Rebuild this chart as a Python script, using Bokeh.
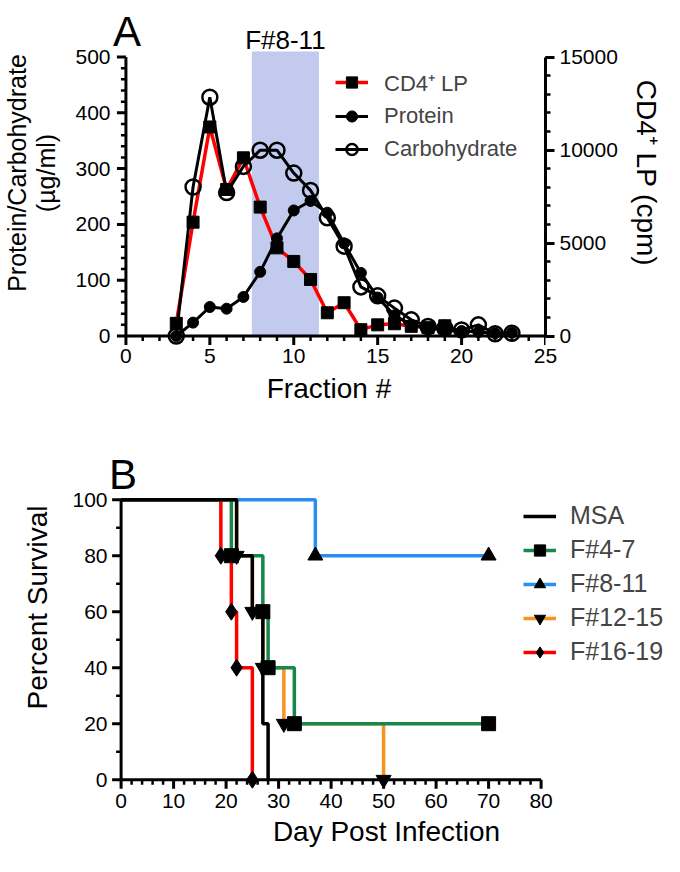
from bokeh.plotting import figure
from bokeh.models import Range1d, LinearAxis, Legend, LegendItem, FixedTicker
from bokeh.embed import file_html
from bokeh.resources import INLINE
from bokeh.core.properties import value

FONT = "Liberation Sans"

# ---------------- Panel A data ----------------
cd4_fraction = [3, 4, 5, 6, 7, 8, 9, 10, 11, 12, 13, 14, 15, 16, 17, 18, 19]
cd4_cpm = [680, 6120, 11240, 7880, 9580, 6930, 4740, 4010, 3040, 1250, 1790,
           340, 600, 660, 520, 450, 550]
protein_fraction = list(range(3, 24))
protein = [0, 24, 52, 49, 70, 115, 175, 225, 242, 221, 166, 113, 69, 37, 20,
           14, 12, 9, 7, 5, 6]
carb_fraction = list(range(3, 24))
carbohydrate = [0, 267, 428, 257, 304, 333, 333, 292, 261, 212, 161, 88, 72,
                50, 29, 17, 14, 11, 20, 4, 5]
band_fractions = [7.5, 11.5]
band_label = "F#8-11"
a_xticks = [0, 5, 10, 15, 20, 25]
a_yticks = [0, 100, 200, 300, 400, 500]
a_y2ticks = [0, 5000, 10000, 15000]

# ---------------- Panel B data ----------------
groups = ["MSA", "F#4-7", "F#8-11", "F#12-15", "F#16-19"]
days = {
    "MSA":     [0, 22, 25, 27, 28],
    "F#4-7":   [0, 21, 27, 28, 33, 70],
    "F#8-11":  [0, 37, 70],
    "F#12-15": [0, 22, 25, 27, 31, 50],
    "F#16-19": [0, 19, 21, 22, 25],
}
survival = {
    "MSA":     [100, 80, 60, 20, 0],
    "F#4-7":   [100, 80, 60, 40, 20, 20],
    "F#8-11":  [100, 80, 80],
    "F#12-15": [100, 80, 60, 40, 20, 0],
    "F#16-19": [100, 80, 60, 40, 0],
}
b_xticks = [0, 10, 20, 30, 40, 50, 60, 70, 80]
b_yticks = [0, 20, 40, 60, 80, 100]

colors = {"MSA": "#000000", "F#4-7": "#17884a", "F#8-11": "#2b8ef2",
          "F#12-15": "#f7931e", "F#16-19": "#ff0000"}
markers = {"MSA": None, "F#4-7": "square", "F#8-11": "triangle",
           "F#12-15": "inverted_triangle", "F#16-19": "diamond"}
msize = {"square": 14, "triangle": 15, "inverted_triangle": 15, "diamond": 17}

W = 664
TICK_FONT = "21px"
LABEL_FONT = "28px"


def style_axis(ax, ticks, minor, bounds):
    ax.ticker = FixedTicker(ticks=ticks, minor_ticks=minor)
    ax.bounds = bounds
    ax.axis_line_width = 3
    ax.major_tick_line_width = 3
    ax.minor_tick_line_width = 2.5
    ax.major_tick_out = 9
    ax.major_tick_in = 0
    ax.minor_tick_out = 5
    ax.minor_tick_in = 0
    ax.major_label_text_font = FONT
    ax.major_label_text_font_size = TICK_FONT
    ax.major_label_text_color = "black"
    ax.major_label_standoff = 5
    ax.axis_label_text_font = FONT
    ax.axis_label_text_font_size = LABEL_FONT
    ax.axis_label_text_font_style = "normal"
    ax.axis_label_text_color = "black"


def hide_rule(ax):
    ax.axis_line_color = None
    ax.major_tick_line_color = None
    ax.minor_tick_line_color = None
    ax.major_tick_out = 0
    ax.minor_tick_out = 0


def draw_x_rule(p, ticks, minor, bounds, ppu):
    """x axis line and ticks drawn at y = 0."""
    p.segment(x0=[bounds[0]], x1=[bounds[1]], y0=[0], y1=[0],
              line_color="black", line_width=3)
    p.segment(x0=ticks, x1=ticks, y0=[0] * len(ticks),
              y1=[-9 / ppu] * len(ticks), line_color="black", line_width=3)
    mn = [m for m in minor if m not in ticks]
    p.segment(x0=mn, x1=mn, y0=[0] * len(mn), y1=[-5 / ppu] * len(mn),
              line_color="black", line_width=2.5)


def draw_y_rule(p, ticks, minor, bounds, ppu):
    """y axis line and ticks drawn at x = 0."""
    p.segment(x0=[0], x1=[0], y0=[bounds[0]], y1=[bounds[1]],
              line_color="black", line_width=3)
    p.segment(x0=[0] * len(ticks), x1=[-9 / ppu] * len(ticks), y0=ticks,
              y1=ticks, line_color="black", line_width=3)
    mn = [m for m in minor if m not in ticks]
    p.segment(x0=[0] * len(mn), x1=[-5 / ppu] * len(mn), y0=mn, y1=mn,
              line_color="black", line_width=2.5)


# ================= Panel A =================
A_BL, A_FW, A_BR = 107, 433, 124
A_X0, A_X1 = -0.8, 25
A_BT, A_FH, A_BB = 0, 345, 80
A_Y0 = -17
a_xppu = A_FW / (A_X1 - A_X0)
a_ppu = 0.558
A_Y1 = A_Y0 + A_FH / a_ppu
CPM = 30  # right axis (cpm) per left-axis unit

pa = figure(frame_width=A_FW, frame_height=A_FH,
            x_range=Range1d(A_X0, A_X1), y_range=Range1d(A_Y0, A_Y1),
            output_backend="svg", toolbar_location=None, title=None,
            min_border_left=A_BL, min_border_right=A_BR,
            min_border_top=A_BT, min_border_bottom=A_BB,
            outline_line_color=None)
pa.grid.visible = False
pa.extra_y_ranges = {"cpm": Range1d(A_Y0 * CPM, A_Y1 * CPM)}

pa.quad(left=[band_fractions[0]], right=[band_fractions[1]], bottom=[0], top=[510],
        fill_color="#c2cbee", line_color=None)

l_cd4 = pa.line(cd4_fraction, cd4_cpm, y_range_name="cpm", line_color="#ff0000", line_width=3.5)
m_cd4 = pa.scatter(cd4_fraction, cd4_cpm, y_range_name="cpm", marker="square", size=12,
                   fill_color="black", line_color="black")
l_pro = pa.line(protein_fraction, protein, line_color="black", line_width=3)
m_pro = pa.scatter(protein_fraction, protein, marker="circle", size=11,
                   fill_color="black", line_color="black")
l_car = pa.line(carb_fraction, carbohydrate, line_color="black", line_width=3)
m_car = pa.scatter(carb_fraction, carbohydrate, marker="circle", size=15,
                   fill_color=None, line_color="black", line_width=2.5)

a_xminor = list(range(0, 26))
a_yminor = list(range(0, 501, 20))
draw_x_rule(pa, a_xticks, a_xminor, (0, 25), a_ppu)
draw_y_rule(pa, a_yticks, a_yminor, (0, 500), a_xppu)

xa = pa.xaxis[0]
style_axis(xa, a_xticks, a_xminor, (0, 25))
hide_rule(xa)
xa.major_label_standoff = 3
xa.axis_label = "Fraction #"
xa.axis_label_standoff = 7

ya = pa.yaxis[0]
style_axis(ya, a_yticks, a_yminor, (0, 500))
hide_rule(ya)
ya.major_label_standoff = 2
ya.axis_label = "Protein/Carbohydrate\n(\u00b5g/ml)"
ya.axis_label_text_font_size = "25px"
ya.axis_label_text_line_height = 1.05
ya.axis_label_standoff = 12

yr = LinearAxis(y_range_name="cpm")
style_axis(yr, a_y2ticks, list(range(0, 15001, 1000)), (0, 15000))
yr.axis_label = "CD4\u207a LP (cpm)"
yr.axis_label_standoff = 10
pa.add_layout(yr, "right")

# panel letter and band label (inside the extended frame)
pa.text(x=[A_X0 + 0.026], y=[A_Y1 - 31 / a_ppu], text=["A"], text_font=value(FONT),
        text_font_size=value("42px"), text_baseline="alphabetic", text_align="left",
        text_color="black")
pa.text(x=[sum(band_fractions) / 2], y=[530], text=[band_label], text_font=value(FONT),
        text_font_size=value("26px"), text_baseline="alphabetic", text_align="center",
        text_color="black")

leg_a = Legend(items=[
    LegendItem(label="CD4\u207a LP", renderers=[l_cd4, m_cd4]),
    LegendItem(label="Protein", renderers=[l_pro, m_pro]),
    LegendItem(label="Carbohydrate", renderers=[l_car, m_car]),
], location=(223, 182), padding=0, margin=0, spacing=5,
    glyph_width=33, glyph_height=28, label_height=28, label_standoff=16,
    label_text_font=FONT, label_text_font_size="22px",
    background_fill_alpha=0, border_line_color=None)
pa.add_layout(leg_a)

# ================= Panel B =================
B_BL = 108
B_X0 = -2.4
b_xppu = 5.25
B_FW = W - B_BL
B_X1 = B_X0 + B_FW / b_xppu
B_FH, B_BB = 364, 67
B_Y0 = -3.5
b_ppu = 2.8
B_Y1 = B_Y0 + B_FH / b_ppu

pb = figure(frame_width=B_FW, frame_height=B_FH,
            x_range=Range1d(B_X0, B_X1), y_range=Range1d(B_Y0, B_Y1),
            output_backend="svg", toolbar_location=None, title=None,
            min_border_left=B_BL, min_border_right=0,
            min_border_top=0, min_border_bottom=B_BB,
            outline_line_color=None)
pb.grid.visible = False

order = ["F#12-15", "F#8-11", "F#16-19", "F#4-7", "MSA"]
line_r = {}
for g in order:
    line_r[g] = pb.step(days[g], survival[g], mode="after",
                        line_color=colors[g], line_width=3.5)
mark_r = {}
for g in order:
    if markers[g]:
        mark_r[g] = pb.scatter(days[g][1:], survival[g][1:], marker=markers[g],
                               size=msize[markers[g]], fill_color="black",
                               line_color="black")

b_xminor = list(range(0, 81, 2))
b_yminor = list(range(0, 101, 10))
draw_x_rule(pb, b_xticks, b_xminor, (0, 80), b_ppu)
draw_y_rule(pb, b_yticks, b_yminor, (0, 100), b_xppu)

xb = pb.xaxis[0]
style_axis(xb, b_xticks, b_xminor, (0, 80))
hide_rule(xb)
xb.major_label_standoff = 4
xb.axis_label = "Day Post Infection"
xb.axis_label_standoff = 5

yb = pb.yaxis[0]
style_axis(yb, b_yticks, b_yminor, (0, 100))
hide_rule(yb)
yb.major_label_standoff = 1
yb.axis_label = "Percent Survival"
yb.axis_label_standoff = 16

pb.text(x=[-12 / b_xppu], y=[(787 - 482) / b_ppu], text=["B"], text_font=value(FONT),
        text_font_size=value("42px"), text_baseline="alphabetic", text_align="left",
        text_color="black")

items_b = []
for g in groups:
    rs = [line_r[g]] + ([mark_r[g]] if g in mark_r else [])
    items_b.append(LegendItem(label=g, renderers=rs))
leg_b = Legend(items=items_b, location=(415, 123), padding=0, margin=0, spacing=5,
               glyph_width=33, glyph_height=28, label_height=28, label_standoff=14,
               label_text_font=FONT, label_text_font_size="25px",
               background_fill_alpha=0, border_line_color=None)
pb.add_layout(leg_b)

open("out.html", "w").write(file_html([pa, pb], INLINE))
